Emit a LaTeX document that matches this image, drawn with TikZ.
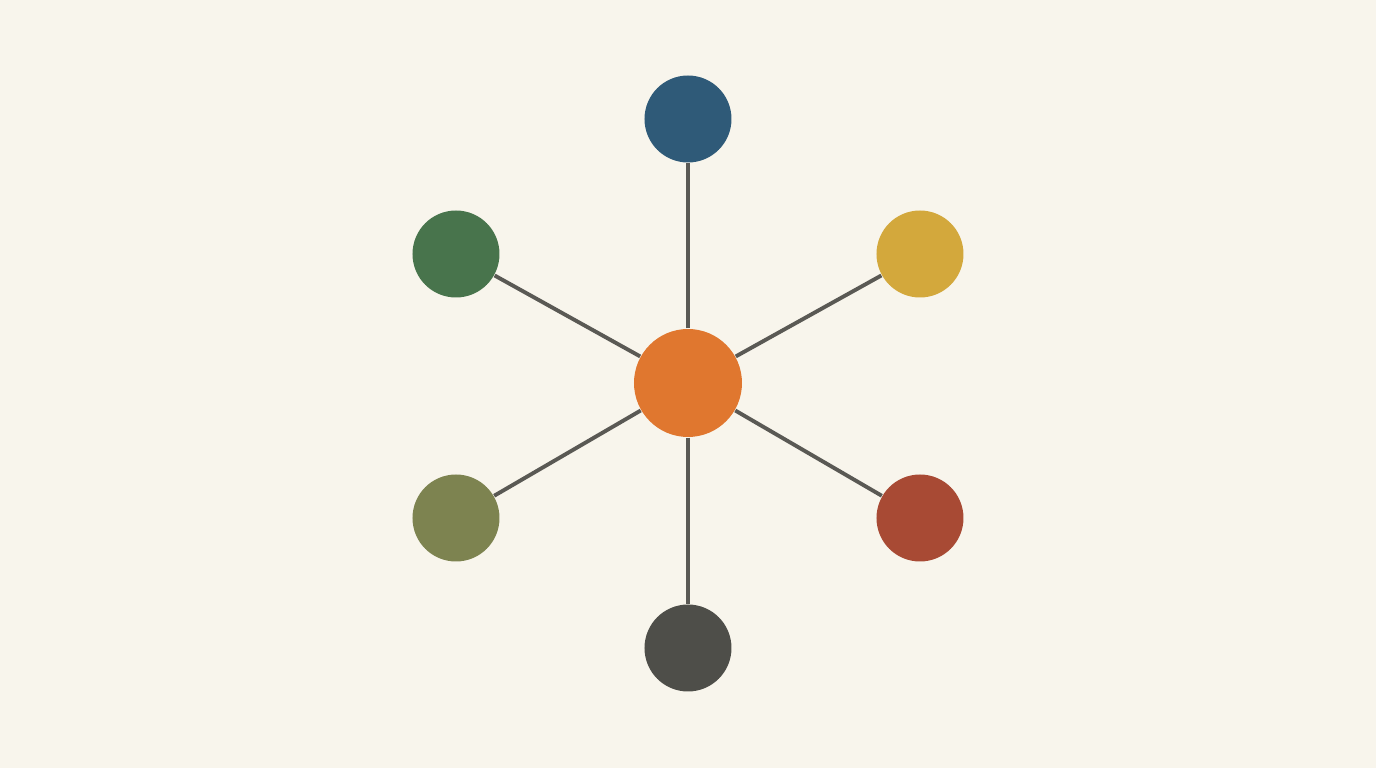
\documentclass[tikz,border=0pt]{standalone}
\usepackage{tikz}
\usetikzlibrary{positioning}

\definecolor{paper}{HTML}{F8F5EC}
\definecolor{hubcol}{HTML}{E0772F}
\definecolor{bluecol}{HTML}{2F5A78}
\definecolor{greencol}{HTML}{48744C}
\definecolor{yellowcol}{HTML}{D3A83C}
\definecolor{olivecol}{HTML}{7D8350}
\definecolor{redcol}{HTML}{A84A34}
\definecolor{darkcol}{HTML}{4E4E49}
\definecolor{spokecol}{HTML}{5A5954}

\begin{document}
\begin{tikzpicture}[hub/.style={circle, fill=hubcol, minimum size=1.08cm, inner sep=0pt},
                    leaf/.style={circle, minimum size=0.87cm, inner sep=0pt},
                    spoke/.style={draw=spokecol, line width=1.1pt}]
            \fill[paper] (-6.88,-3.85) rectangle (6.88,3.83);
            \useasboundingbox (-6.88,-3.85) rectangle (6.88,3.83);
            \node[hub] (hub) at (0,0) {};
            \node[leaf,fill=bluecol]   (top)   at (0,2.64)      {};
            \node[leaf,fill=greencol]  (ul)    at (-2.32,1.29)  {};
            \node[leaf,fill=yellowcol] (ur)    at (2.32,1.29)   {};
            \node[leaf,fill=olivecol]  (ll)    at (-2.32,-1.35) {};
            \node[leaf,fill=redcol]    (lr)    at (2.32,-1.35)  {};
            \node[leaf,fill=darkcol]   (bot)   at (0,-2.65)     {};
            \draw[spoke] (hub) -- (top);
            \draw[spoke] (hub) -- (ul);
            \draw[spoke] (hub) -- (ur);
            \draw[spoke] (hub) -- (ll);
            \draw[spoke] (hub) -- (lr);
            \draw[spoke] (hub) -- (bot);
        \end{tikzpicture}
\end{document}
